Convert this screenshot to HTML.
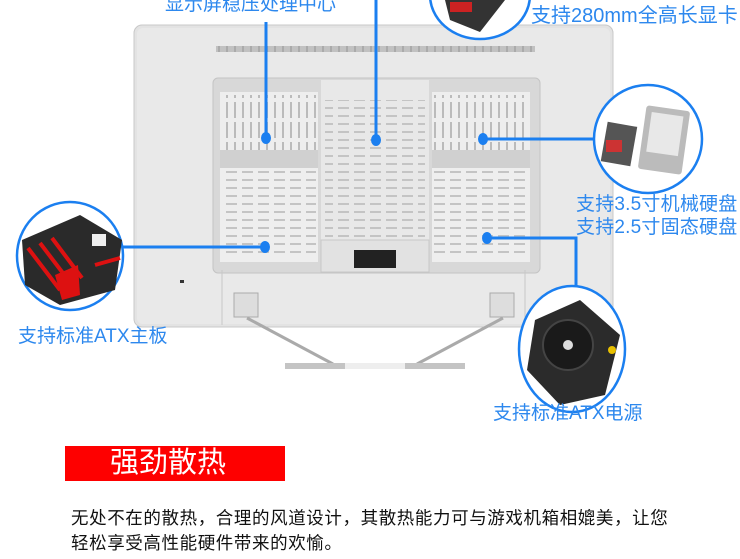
<!DOCTYPE html>
<html><head><meta charset="utf-8"><style>
body{margin:0;width:740px;height:559px;background:#fff;position:relative;overflow:hidden;font-family:"Liberation Sans","Noto Sans CJK SC",sans-serif}
.t{position:absolute;color:#2d88ee;font-size:19px;white-space:nowrap;line-height:1}
</style></head><body>
<svg width="740" height="559" style="position:absolute;left:0;top:0">
<defs>
<pattern id="vs" width="8" height="20" patternUnits="userSpaceOnUse"><rect x="2" y="2" width="2" height="16" fill="#bbb"/></pattern>
<pattern id="hs" width="16" height="8" patternUnits="userSpaceOnUse"><rect x="2" y="3" width="11" height="2" fill="#c4c4c4"/></pattern>
</defs>
<rect x="134" y="25" width="479" height="302" rx="8" fill="#e3e3e3" stroke="#c8c8c8"/>
<rect x="137" y="28" width="473" height="296" rx="6" fill="#e9e9e9"/>
<rect x="216" y="46" width="319" height="6" fill="url(#vs)"/>
<rect x="216" y="46" width="319" height="6" fill="#999" opacity=".5"/>
<rect x="213" y="78" width="327" height="195" rx="5" fill="#d8d8d8" stroke="#c4c4c4"/>
<rect x="220" y="92" width="98" height="170" fill="#eeeeee"/>
<rect x="220" y="150" width="98" height="18" fill="#d0d0d0"/>
<rect x="222" y="95" width="94" height="55" fill="url(#vs)"/>
<rect x="222" y="170" width="94" height="88" fill="url(#hs)"/>
<rect x="432" y="92" width="98" height="170" fill="#eeeeee"/>
<rect x="432" y="150" width="98" height="18" fill="#d0d0d0"/>
<rect x="434" y="95" width="94" height="55" fill="url(#vs)"/>
<rect x="434" y="170" width="94" height="88" fill="url(#hs)"/>
<rect x="321" y="80" width="108" height="190" fill="#e8e8e8"/>
<rect x="325" y="100" width="100" height="140" fill="url(#hs)"/>
<rect x="321" y="240" width="108" height="32" fill="#e2e2e2" stroke="#c8c8c8"/>
<rect x="354" y="250" width="42" height="18" fill="#222"/>
<line x1="222" y1="270" x2="222" y2="325" stroke="#c8c8c8"/>
<line x1="525" y1="270" x2="525" y2="325" stroke="#c8c8c8"/>
<rect x="180" y="280" width="4" height="3" fill="#333"/>
<rect x="234" y="293" width="24" height="24" fill="#ddd" stroke="#aaa"/>
<rect x="490" y="293" width="24" height="24" fill="#ddd" stroke="#aaa"/>
<line x1="247" y1="318" x2="333" y2="364" stroke="#aaa" stroke-width="3"/>
<line x1="503" y1="318" x2="417" y2="364" stroke="#aaa" stroke-width="3"/>
<rect x="285" y="363" width="180" height="6" fill="#c4c4c4"/>
<rect x="345" y="363" width="60" height="6" fill="#eee"/>
<g stroke="#1b7ff0" stroke-width="3" fill="none">
<line x1="266" y1="22" x2="266" y2="138"/>
<line x1="376" y1="0" x2="376" y2="140"/>
<line x1="483" y1="139" x2="595" y2="139"/>
<polyline points="487,238 576,238 576,290"/>
<line x1="122" y1="247" x2="265" y2="247"/>
</g>
<g fill="#1b7ff0">
<ellipse cx="266" cy="138" rx="5" ry="6"/><ellipse cx="376" cy="140" rx="5" ry="6"/>
<ellipse cx="483" cy="139" rx="5" ry="6"/><ellipse cx="487" cy="238" rx="5" ry="6"/>
<ellipse cx="265" cy="247" rx="5" ry="6"/>
</g>
<g stroke="#1b7ff0" stroke-width="2.5" fill="#fff">
<ellipse cx="480" cy="-5" rx="50" ry="44"/>
<ellipse cx="648" cy="139" rx="54" ry="54"/>
<ellipse cx="70" cy="256" rx="53" ry="54"/>
<ellipse cx="572" cy="349" rx="53" ry="63"/>
</g>
<polygon points="445,0 505,0 480,32 450,20" fill="#333"/><rect x="450" y="2" width="22" height="10" fill="#c22"/>
<rect x="604" y="124" width="30" height="40" fill="#555" transform="rotate(10 619 144)"/>
<rect x="606" y="140" width="16" height="12" fill="#c33"/>
<rect x="642" y="108" width="44" height="64" rx="3" fill="#bbb" transform="rotate(8 664 140)"/>
<rect x="648" y="114" width="32" height="40" fill="#e8e8e8" transform="rotate(8 664 140)"/>
<polygon points="22,240 80,215 122,240 115,290 60,305 25,285" fill="#2a2a2a"/>
<g stroke="#d11" stroke-width="4"><line x1="28" y1="248" x2="60" y2="290"/><line x1="40" y1="243" x2="72" y2="285"/><line x1="52" y1="238" x2="82" y2="278"/><line x1="95" y1="265" x2="120" y2="258"/></g>
<rect x="92" y="234" width="14" height="12" fill="#eee"/>
<polygon points="55,275 78,265 80,295 62,300" fill="#d11"/>
<polygon points="535,320 580,300 620,335 605,395 560,405 527,370" fill="#2b2b2b"/>
<circle cx="568" cy="345" r="25" fill="#1a1a1a" stroke="#444" stroke-width="2"/>
<circle cx="568" cy="345" r="5" fill="#ddd"/>
<circle cx="612" cy="350" r="4" fill="#e8c000"/>
</svg>
<div class="t" style="left:165px;top:-5px">显示屏稳压处理中心</div>
<div class="t" style="left:531px;top:6px;font-size:20px">支持280mm全高长显卡</div>
<div class="t" style="left:576px;top:195px;letter-spacing:.2px">支持3.5寸机械硬盘</div>
<div class="t" style="left:576px;top:218px;letter-spacing:.2px">支持2.5寸固态硬盘</div>
<div class="t" style="left:18px;top:327px">支持标准ATX主板</div>
<div class="t" style="left:493px;top:404px">支持标准ATX电源</div>
<div style="position:absolute;left:65px;top:446px;width:220px;height:35px;background:#fe0000;color:#fff;font-size:29px;line-height:35px;padding-left:45px;box-sizing:border-box">强劲散热</div>
<div style="position:absolute;left:71px;top:506px;font-size:17.5px;line-height:25px;color:#111;white-space:nowrap;letter-spacing:.6px">无处不在的散热，合理的风道设计，其散热能力可与游戏机箱相媲美，让您<br>轻松享受高性能硬件带来的欢愉。</div>
</body></html>
